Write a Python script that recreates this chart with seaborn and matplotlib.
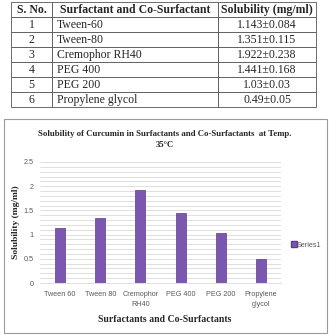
import pandas as pd
import seaborn as sns
import matplotlib.pyplot as plt
from matplotlib.patches import Rectangle
from matplotlib.lines import Line2D
from matplotlib.ticker import MultipleLocator, FuncFormatter

# data
s_no = ["1", "2", "3", "4", "5", "6"]
table_names = ["Tween-60", "Tween-80", "Cremophor RH40", "PEG 400", "PEG 200", "Propylene glycol"]
table_solubility = ["1.143\u00b10.084", "1.351\u00b10.115", "1.922\u00b10.238",
                    "1.441\u00b10.168", "1.03\u00b10.03", "0.49\u00b10.05"]
bar_labels = ["Tween 60", "Tween 80", "Cremophor\nRH40", "PEG 400", "PEG 200", "Propylene\nglycol"]
solubility = [1.143, 1.351, 1.922, 1.441, 1.03, 0.49]

df = pd.DataFrame({"agent": bar_labels, "solubility": solubility})

sns.set_style("white")
plt.rcParams['font.family'] = ['Liberation Serif', 'DejaVu Serif']

fig = plt.figure(figsize=(3.29, 3.35), dpi=100)

# ---- table on top
ax_t = fig.add_axes([11/329, 1 - 107/335, 305/329, 105/335])
ax_t.axis("off")
cells = [[a, b, c] for a, b, c in zip(s_no, table_names, table_solubility)]
tbl = ax_t.table(cellText=cells,
                 colLabels=["S. No.", "Surfactant and Co-Surfactant", "Solubility (mg/ml)"],
                 colWidths=[41/305, 166/305, 98/305],
                 cellLoc="center", bbox=[0, 0, 1, 1])
tbl.auto_set_font_size(False)
for (r, c), cell in tbl.get_celld().items():
    cell.set_linewidth(0.6)
    cell.set_edgecolor("#555555")
    cell.get_text().set_fontsize(8.5)
    if r == 0:
        cell.get_text().set_fontweight("bold")
    elif c == 1:
        cell.get_text().set_ha("left")
        cell._loc = "left"
        cell.PAD = 0.03

# ---- chart frame
fig.patches.append(Rectangle((4/329, 2/335), 323/329, 214/335, transform=fig.transFigure,
                             fill=False, edgecolor="#9a9a9a", linewidth=0.8))

ax = fig.add_axes([40/329, 1 - 283/335, 241/329, 121/335])
sns.barplot(data=df, x="agent", y="solubility", color="#7b57b0", width=0.25,
            saturation=1, edgecolor="#5a3d8a", linewidth=0.5, ax=ax, zorder=3)
ax.set_ylim(0, 2.5)
ax.set_xlim(-0.5, 5.5)
ax.yaxis.set_major_locator(MultipleLocator(0.5))
ax.yaxis.set_minor_locator(MultipleLocator(0.1))
ax.yaxis.set_major_formatter(FuncFormatter(lambda v, p: f"{v:g}"))
ax.grid(axis="y", which="both", color="#d9d9d9", linewidth=0.6, zorder=0)
ax.set_axisbelow(True)
for side in ["top", "right", "left"]:
    ax.spines[side].set_visible(False)
ax.spines["bottom"].set_color("#d9d9d9")
ax.spines["bottom"].set_linewidth(0.6)
ax.tick_params(axis="x", length=0, labelsize=5.2, labelcolor="#595959", pad=6)
ax.tick_params(axis="y", length=0, labelsize=5.2, labelcolor="#595959", pad=4.5)
for lab in ax.get_xticklabels() + ax.get_yticklabels():
    lab.set_family(['Liberation Sans', 'DejaVu Sans'])
    lab.set_linespacing(1.6)
ax.set_xlabel("")
ax.set_ylabel("")

fig.text(165/329, 1 - 134/335, "Solubility of Curcumin in Surfactants and Co-Surfactants  at Temp.",
         ha="center", va="center", fontsize=6.3, fontweight="bold")
fig.text(165/329, 1 - 145/335, "35\u00b0C", ha="center", va="center", fontsize=6.3, fontweight="bold")
fig.text(16/329, 1 - 222/335, "Solubility (mg/ml)", rotation=90, ha="center", va="center",
         fontsize=6.8, fontweight="bold")
fig.text(165/329, 1 - 320/335, "Surfactants and Co-Surfactants", ha="center", va="center",
         fontsize=7, fontweight="bold")

handle = Line2D([], [], marker="s", linestyle="none", markersize=4,
                markerfacecolor="#7b57b0", markeredgecolor="#5a3d8a")
leg = fig.legend([handle], ["Series1"], loc="center left", bbox_to_anchor=(287/329, 1 - 245/335),
                 frameon=False, handletextpad=0.1, handlelength=0.8, borderpad=0,
                 prop={"family": ['Liberation Sans', 'DejaVu Sans'], "size": 5.2})
for t in leg.get_texts():
    t.set_color("#595959")

plt.savefig("out.png", dpi=100)
